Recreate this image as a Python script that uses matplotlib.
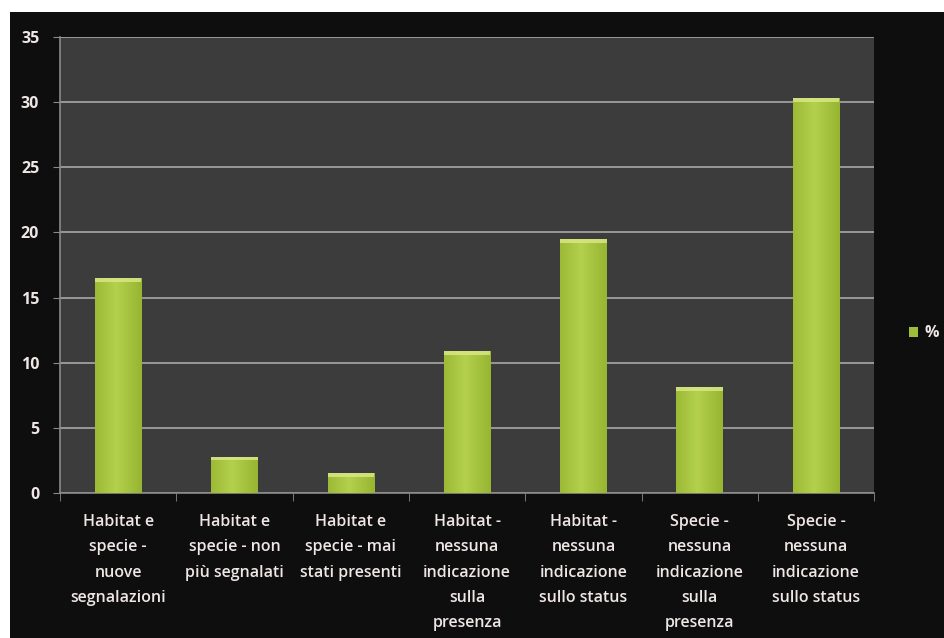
import matplotlib
matplotlib.use("Agg")
import matplotlib.pyplot as plt
import numpy as np
from matplotlib.patches import Rectangle

categories = [
    "Habitat e\nspecie -\nnuove\nsegnalazioni",
    "Habitat e\nspecie - non\npiù segnalati",
    "Habitat e\nspecie - mai\nstati presenti",
    "Habitat -\nnessuna\nindicazione\nsulla\npresenza",
    "Habitat -\nnessuna\nindicazione\nsullo status",
    "Specie -\nnessuna\nindicazione\nsulla\npresenza",
    "Specie -\nnessuna\nindicazione\nsullo status",
]
values = [16.5, 2.8, 1.5, 10.9, 19.5, 8.1, 30.3]
yticks = [0, 5, 10, 15, 20, 25, 30, 35]

plt.rcParams['font.family'] = ['Open Sans', 'DejaVu Sans']
txt = "#f0e6e6"

fig = plt.figure(figsize=(9.44, 6.38), dpi=100)
fig.patch.set_facecolor("white")
# black frame of the original screenshot
fig.add_artist(Rectangle((10/944, 0), 1, 626/638, transform=fig.transFigure,
                         facecolor="#0e0e0e", edgecolor="none", zorder=0))

ax = fig.add_axes([0.0636, 0.2273, 0.8624, 0.7147])
ax.set_facecolor("#3d3c3c")

X = np.arange(len(categories))
bars = ax.bar(X, values, width=0.4, color="#9fbd3a", zorder=3)

# simple horizontal gradient on every bar
grad = np.linspace(0, 1, 64)
cmap_img = np.zeros((1, 64, 3))
base = np.array([0x9a, 0xb8, 0x34]) / 255.0
light = np.array([0xb4, 0xd0, 0x4c]) / 255.0
for i in range(64):
    t = 1 - abs(grad[i] - 0.45) * 2
    cmap_img[0, i] = base * (1 - t) + light * t
for b in bars:
    x0, w, h = b.get_x(), b.get_width(), b.get_height()
    im = ax.imshow(cmap_img, extent=[x0, x0 + w, 0, h], aspect="auto", zorder=4)
    im.set_clip_path(b)
    # light cap on the top
    ax.add_patch(Rectangle((x0, h - 0.3), w, 0.3, facecolor="#dbe98a",
                           edgecolor="none", zorder=5, alpha=0.8))

ax.set_xlim(-0.5, len(categories) - 0.5)
ax.set_ylim(0, 35)
ax.set_yticks(yticks)
ax.set_yticklabels([str(v) for v in yticks], color=txt, fontsize=11.5, fontweight="bold")
ax.yaxis.grid(True, color="#a8a8a8", linewidth=1.2, zorder=1)
ax.set_axisbelow(True)

ax.set_xticks(X)
ax.set_xticklabels(categories, color=txt, fontsize=11.5, fontweight="semibold",
                   linespacing=1.78)
ax.tick_params(axis="x", length=0, pad=15)
ax.set_xticks(np.arange(len(categories) + 1) - 0.5, minor=True)
ax.tick_params(axis="x", which="minor", length=6, color="#8a8a8a", direction="out")
ax.tick_params(axis="y", length=5, color="#8a8a8a", direction="out", pad=10)

for side in ["top", "right"]:
    ax.spines[side].set_visible(False)
for side in ["left", "bottom"]:
    ax.spines[side].set_color("#8a8a8a")
    ax.spines[side].set_linewidth(1.2)

leg = ax.legend([bars[0]], ["%"], loc="center left", bbox_to_anchor=(1.025, 0.35),
                frameon=False, handlelength=0.6, handleheight=0.6, handletextpad=0.4,
                prop={"size": 11.5, "weight": "bold"})
for t in leg.get_texts():
    t.set_color(txt)

fig.savefig("out.png", dpi=100, facecolor=fig.get_facecolor())
